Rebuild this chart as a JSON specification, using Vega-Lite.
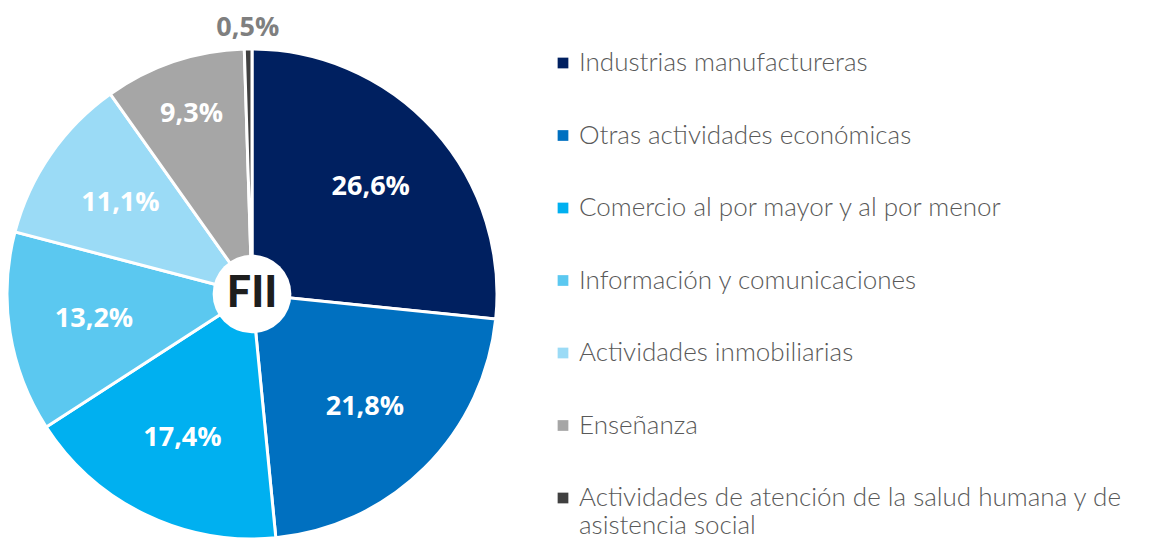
{
  "$schema": "https://vega.github.io/schema/vega-lite/v6.json",
  "width": 504,
  "height": 490,
  "padding": {"top": 49, "left": 0, "right": 645, "bottom": 1},
  "autosize": "none",
  "background": "white",
  "config": {"view": {"stroke": null}},
  "data": {"values": [
    {"sector": "Industrias manufactureras", "value": 26.6, "label": "26,6%", "order": 1},
    {"sector": "Otras actividades económicas", "value": 21.8, "label": "21,8%", "order": 2},
    {"sector": "Comercio al por mayor y al por menor", "value": 17.4, "label": "17,4%", "order": 3},
    {"sector": "Información y comunicaciones", "value": 13.2, "label": "13,2%", "order": 4},
    {"sector": "Actividades inmobiliarias", "value": 11.1, "label": "11,1%", "order": 5},
    {"sector": "Enseñanza", "value": 9.3, "label": "9,3%", "order": 6},
    {"sector": "Actividades de atención de la salud humana y de asistencia social", "value": 0.5, "label": "0,5%", "order": 7}
  ]},
  "encoding": {
    "theta": {"field": "value", "type": "quantitative", "stack": true},
    "order": {"field": "order", "type": "quantitative"}
  },
  "layer": [
    {
      "mark": {"type": "arc", "outerRadius": 245, "stroke": "white", "strokeWidth": 3},
      "encoding": {
        "color": {
          "field": "sector", "type": "nominal",
          "scale": {
            "domain": ["Industrias manufactureras", "Otras actividades económicas", "Comercio al por mayor y al por menor", "Información y comunicaciones", "Actividades inmobiliarias", "Enseñanza", "Actividades de atención de la salud humana y de asistencia social"],
            "range": ["#002060", "#0070C0", "#00B0F0", "#5BC8F0", "#9BDBF6", "#A6A6A6", "#404040"]
          },
          "legend": {
            "title": null,
            "orient": "none",
            "legendX": 550,
            "legendY": 1,
            "symbolType": "square",
            "symbolSize": 115,
            "symbolStrokeWidth": 0,
            "labelFont": "Lato",
            "labelFontWeight": 300,
            "labelFontSize": 26,
            "labelColor": "#595959",
            "labelLimit": 700,
            "labelOffset": 3,
            "rowPadding": 46.5,
            "labelExpr": "datum.label == 'Actividades de atención de la salud humana y de asistencia social' ? ['Actividades de atención de la salud humana y de', 'asistencia social'] : datum.label",
            "encode": {"labels": {"update": {"lineHeight": {"value": 28}}}}
          }
        }
      }
    },
    {
      "mark": {"type": "text", "radius": 160, "font": "Open Sans", "fontWeight": "bold", "fontSize": 27, "fill": "white"},
      "encoding": {"text": {"condition": {"test": "datum.order <= 5", "field": "label"}, "value": ""}}
    },
    {
      "mark": {"type": "text", "radius": 190, "font": "Open Sans", "fontWeight": "bold", "fontSize": 27, "fill": "white"},
      "encoding": {"text": {"condition": {"test": "datum.order == 6", "field": "label"}, "value": ""}}
    },
    {
      "mark": {"type": "text", "radius": 266, "font": "Open Sans", "fontWeight": "bold", "fontSize": 27, "fill": "#7F7F7F"},
      "encoding": {"text": {"condition": {"test": "datum.order == 7", "field": "label"}, "value": ""}}
    },
    {
      "data": {"values": [{"center": "FII"}]},
      "mark": {"type": "point", "shape": "circle", "filled": true, "fill": "white", "opacity": 1, "size": 6200},
      "encoding": {"theta": null, "order": null}
    },
    {
      "data": {"values": [{"center": "FII"}]},
      "mark": {"type": "text", "font": "Lato", "fontWeight": 900, "fontSize": 43, "fill": "#1E1E1E"},
      "encoding": {"theta": null, "order": null, "text": {"field": "center"}}
    }
  ]
}
